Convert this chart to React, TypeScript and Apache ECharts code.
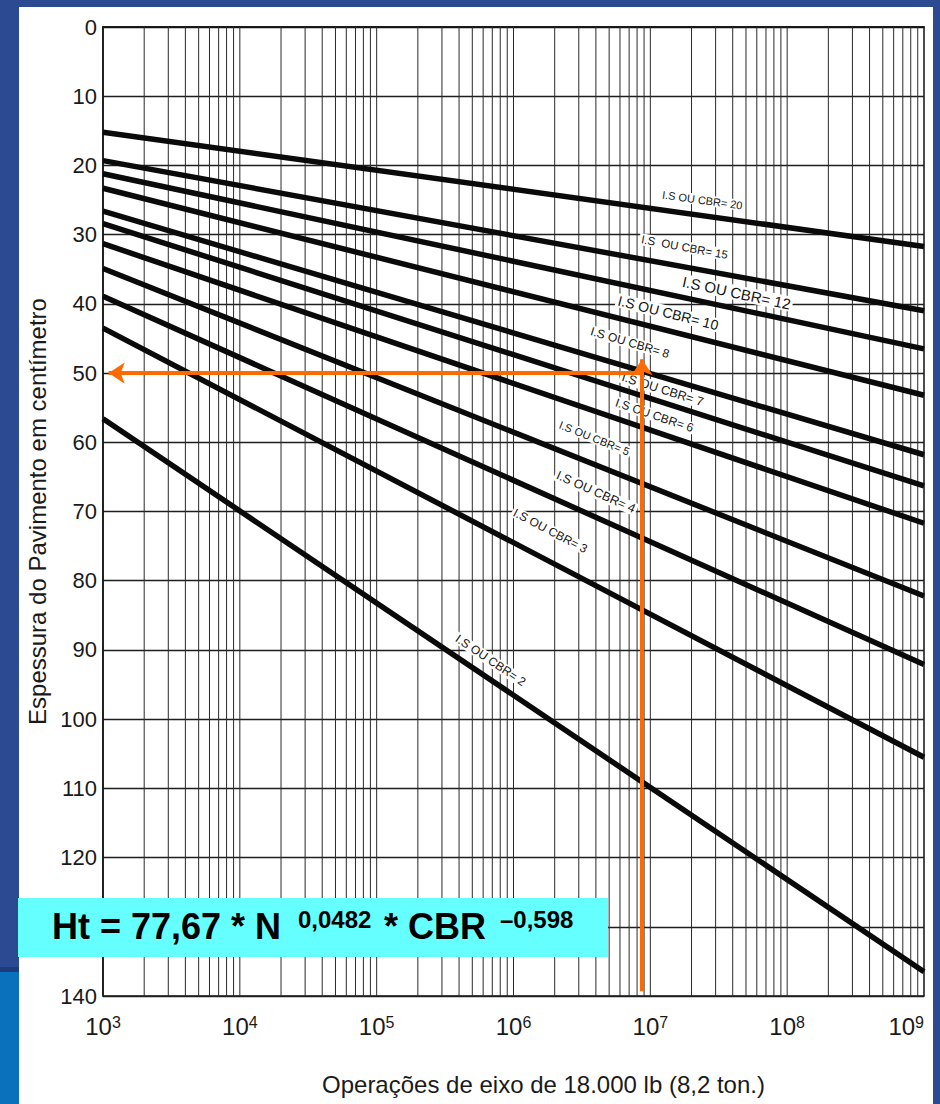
import React, { useEffect, useRef } from "react";
import * as echarts from "echarts";

// ---- data ----
const cbrValues = [20, 15, 12, 10, 8, 7, 6, 5, 4, 3, 2];
const nStart = 1e3;
const nEnd = 1e9;
const thicknessAtStart = [15.2, 19.3, 21.2, 23.3, 26.6, 28.4, 31.3, 34.9, 38.9, 43.5, 56.6];
const thicknessAtEnd = [31.7, 41, 46.5, 53.2, 61.8, 66.3, 71.7, 82.2, 92.1, 105.5, 136.5];
const labelTexts = [
  "I.S OU CBR= 20",
  "I.S  OU CBR= 15",
  "I.S OU CBR= 12",
  "I.S OU CBR= 10",
  "I.S OU CBR= 8",
  "I.S OU CBR= 7",
  "I.S OU CBR= 6",
  "I.S OU CBR= 5",
  "I.S OU CBR= 4",
  "I.S OU CBR= 3",
  "I.S OU CBR= 2",
];
const labelN = [2.4e7, 1.78e7, 4.27e7, 1.35e7, 7.1e6, 1.23e7, 1.07e7, 3.9e6, 4.0e6, 1.86e6, 6.8e5];
const labelThickness = [25.0, 31.8, 38.4, 41.3, 45.6, 52.4, 56.1, 59.4, 67.2, 72.8, 91.5];
const exampleN = 8.7e6;
const exampleThickness = 50;
const exampleArrowBottom = 139.3;
const exampleArrowTop = 48;
const exampleArrowLeftN = 1.1e3;
const decadeStarts = [1e3, 1e4, 1e5, 1e6, 1e7, 1e8];
const gridMultipliers = [1, 2, 3, 4, 5, 6, 7, 8, 9];
const yMin = 0;
const yMax = 140;
const yInterval = 10;
const yHiddenTick = 130; // covered by the formula box in the reference

// ---- styles ----
const labelRotations = [-7.9, -10.4, -12, -14.1, -16.5, -17.7, -18.8, -21.7, -24.2, -27.6, -34];
const labelFontSizes = [11, 11.5, 15, 14, 12, 12.5, 12, 11, 12.5, 12, 12];
const FONT = "'Liberation Sans', Arial, Helvetica, sans-serif";
const TEXT = "#1a1a1a";

const verticalGridValues: number[] = [];
decadeStarts.forEach((d) => gridMultipliers.forEach((m) => verticalGridValues.push(d * m)));

export default function App() {
  const ref = useRef<HTMLDivElement>(null);

  useEffect(() => {
    document.body.style.margin = "0";
    if (!ref.current) return;
    const chart = echarts.init(ref.current, null, { renderer: "svg" });

    const cbrSeries = cbrValues.map((cbr, i) => ({
      type: "line",
      name: "CBR " + cbr,
      data: [
        [nStart, thicknessAtStart[i]],
        [nEnd, thicknessAtEnd[i]],
      ],
      symbol: "none",
      silent: true,
      z: 3,
      lineStyle: { color: "#0a0a0a", width: 5.5 },
      markPoint: {
        symbol: "rect",
        symbolSize: 1,
        silent: true,
        itemStyle: { color: "transparent" },
        label: {
          show: true,
          position: "inside",
          formatter: labelTexts[i],
          rotate: labelRotations[i],
          fontSize: labelFontSizes[i],
          color: "#141414",
          fontFamily: FONT,
          backgroundColor: "#ffffff",
          padding: [0, 2],
        },
        data: [{ coord: [labelN[i], labelThickness[i]] }],
      },
    }));

    chart.setOption({
      animation: false,
      grid: {
        left: 103,
        right: 16,
        top: 27,
        bottom: 108,
        show: true,
        borderColor: "#111",
        borderWidth: 1.5,
        backgroundColor: "transparent",
      },
      xAxis: {
        type: "log",
        logBase: 10,
        min: nStart,
        max: nEnd,
        name: "Operações de eixo de 18.000 lb (8,2 ton.)",
        nameLocation: "middle",
        nameGap: 76,
        nameTextStyle: { fontSize: 24, color: TEXT, fontFamily: FONT, padding: [0, 0, 0, 60] },
        axisLine: { show: true, lineStyle: { color: "#111", width: 1.5 } },
        axisTick: { show: false },
        splitLine: { show: false },
        axisLabel: {
          margin: 18,
          alignMinLabel: "left",
          alignMaxLabel: "right",
          formatter: (v: number) => "{b|10}{s|" + Math.round(Math.log10(v)) + "}",
          rich: {
            b: { fontSize: 24, color: TEXT, fontFamily: FONT },
            s: { fontSize: 16, color: TEXT, fontFamily: FONT, verticalAlign: "top" },
          },
        },
      },
      yAxis: {
        type: "value",
        inverse: true,
        min: yMin,
        max: yMax,
        interval: yInterval,
        name: "Espessura do Pavimento em centímetro",
        nameLocation: "middle",
        nameGap: 52,
        nameRotate: 90,
        nameTextStyle: { fontSize: 24, color: TEXT, fontFamily: FONT },
        axisLine: { show: true, lineStyle: { color: "#111", width: 1.5 } },
        axisTick: { show: false },
        axisLabel: {
          fontSize: 22,
          color: TEXT,
          fontFamily: FONT,
          margin: 6,
          formatter: (v: number) => (v === yHiddenTick ? "" : String(v)),
        },
        splitLine: { show: true, lineStyle: { color: "#1e1e1e", width: 1.3 } },
      },
      series: [
        {
          type: "custom",
          silent: true,
          z: 1,
          clip: true,
          data: verticalGridValues.map((v) => [v, yMin]),
          encode: { x: 0, y: 1 },
          renderItem: (_p: any, api: any) => {
            const x = api.value(0);
            const p1 = api.coord([x, yMin]);
            const p2 = api.coord([x, yMax]);
            return {
              type: "line",
              shape: { x1: p1[0], y1: p1[1], x2: p2[0], y2: p2[1] },
              style: { stroke: "#2a2a2a", lineWidth: 1 },
            };
          },
        },
        ...cbrSeries,
        {
          type: "lines",
          coordinateSystem: "cartesian2d",
          silent: true,
          z: 10,
          symbol: ["none", "arrow"],
          symbolSize: 16,
          lineStyle: { color: "#ff6a00", width: 4, opacity: 1, curveness: 0 },
          data: [
            { coords: [[exampleN, exampleArrowBottom], [exampleN, exampleArrowTop]] },
            { coords: [[exampleN, exampleThickness], [exampleArrowLeftN, exampleThickness]] },
          ],
        },
      ],
      graphic: [
        {
          type: "rect",
          z: 100,
          silent: true,
          shape: { x: 18, y: 898, width: 590, height: 59 },
          style: { fill: "#66ffff" },
        },
        {
          type: "text",
          z: 101,
          silent: true,
          x: 52,
          y: 926,
          style: {
            text: "Ht = 77,67 * N",
            fontSize: 36,
            fontWeight: "bold",
            fontFamily: FONT,
            fill: "#000",
            verticalAlign: "middle",
            align: "left",
          },
        },
        {
          type: "text",
          z: 101,
          silent: true,
          x: 298,
          y: 919,
          style: {
            text: "0,0482",
            fontSize: 24,
            fontWeight: "bold",
            fontFamily: FONT,
            fill: "#000",
            verticalAlign: "middle",
            align: "left",
          },
        },
        {
          type: "text",
          z: 101,
          silent: true,
          x: 384,
          y: 926,
          style: {
            text: "* CBR",
            fontSize: 36,
            fontWeight: "bold",
            fontFamily: FONT,
            fill: "#000",
            verticalAlign: "middle",
            align: "left",
          },
        },
        {
          type: "text",
          z: 101,
          silent: true,
          x: 500,
          y: 919,
          style: {
            text: "–0,598",
            fontSize: 24,
            fontWeight: "bold",
            fontFamily: FONT,
            fill: "#000",
            verticalAlign: "middle",
            align: "left",
          },
        },
      ],
    });

    return () => chart.dispose();
  }, []);

  return (
    <div style={{ position: "relative", width: 940, height: 1104, background: "#2b4a91", overflow: "hidden" }}>
      <div style={{ position: "absolute", left: 0, top: 967, width: 19, height: 5, background: "#1e3c7c" }} />
      <div style={{ position: "absolute", left: 0, top: 972, width: 19, height: 132, background: "#0a72bc" }} />
      <div style={{ position: "absolute", left: 19, top: 7, width: 914, height: 1097, background: "#ffffff" }} />
      <div ref={ref} style={{ position: "absolute", left: 0, top: 0, width: 940, height: 1104 }} />
    </div>
  );
}
